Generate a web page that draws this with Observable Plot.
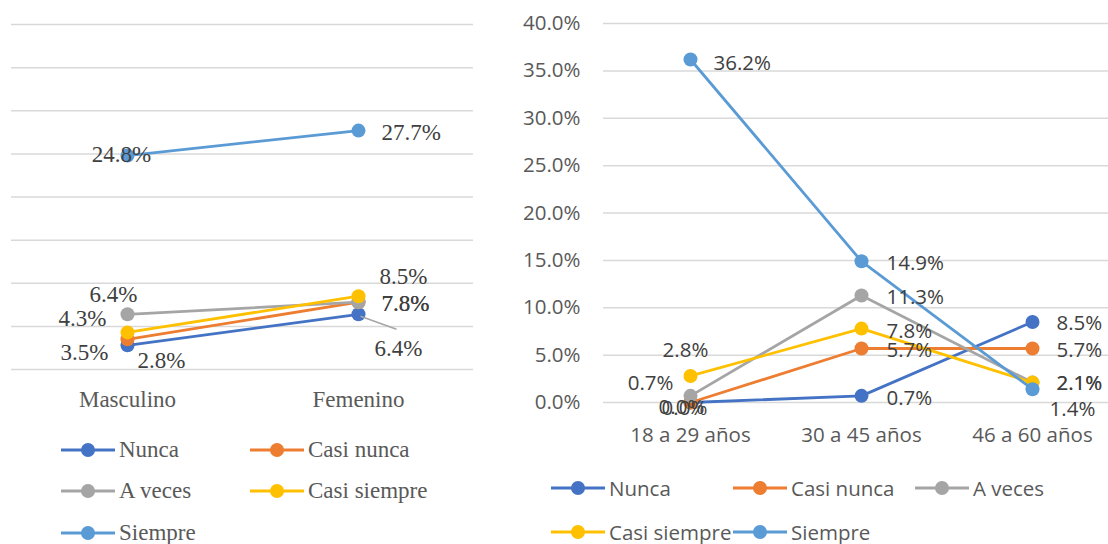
<!DOCTYPE html>
<html>
<head>
<meta charset="utf-8">
<script src="https://cdn.jsdelivr.net/npm/d3@7"></script>
<script src="https://cdn.jsdelivr.net/npm/@observablehq/plot@0.6"></script>
<style>
  html, body { margin: 0; padding: 0; background: #fff; }
  body { width: 1108px; height: 544px; overflow: hidden; position: relative; }
  .pane { position: absolute; top: 0; }
  .pane svg { max-width: none !important; }
  .legend { position: absolute; display: grid; }
  .legend .item { display: flex; align-items: center; white-space: nowrap; }
  .legend svg { display: block; flex: none; }
</style>
</head>
<body>
<div id="left" class="pane" style="left:0;width:480px;"></div>
<div id="leftLegend" class="legend" style="left:61px;top:429px;grid-template-columns:189px 189px;grid-auto-rows:41.5px;font-family:'Liberation Serif','Times New Roman',serif;font-size:23px;color:#595959;"></div>
<div id="right" class="pane" style="left:480px;width:628px;overflow:hidden;"></div>
<div id="rightLegend" class="legend" style="left:551px;top:466px;grid-template-columns:182px 182px 182px;grid-auto-rows:44px;font-family:'Open Sans',sans-serif;font-size:20.5px;color:#595959;"></div>
<script>
// ---------- data ----------
const seriesNames = ["Nunca", "Casi nunca", "A veces", "Casi siempre", "Siempre"];
const seriesColors = ["#4472C4", "#ED7D31", "#A5A5A5", "#FFC000", "#5B9BD5"];

const sexCategories = ["Masculino", "Femenino"];
const sexNunca = [2.8, 6.4];
const sexCasiNunca = [3.5, 7.8];
const sexAVeces = [6.4, 7.8];
const sexCasiSiempre = [4.3, 8.5];
const sexSiempre = [24.8, 27.7];

const ageCategories = ["18 a 29 años", "30 a 45 años", "46 a 60 años"];
const ageNunca = [0.0, 0.7, 8.5];
const ageCasiNunca = [0.0, 5.7, 5.7];
const ageAVeces = [0.7, 11.3, 2.1];
const ageCasiSiempre = [2.8, 7.8, 2.1];
const ageSiempre = [36.2, 14.9, 1.4];

const yTicks = [0, 5, 10, 15, 20, 25, 30, 35, 40];

// label placement (anchor, dx, dy relative to the point; dy to baseline)
const sexLabelSpec = [
  [["start", 10, 23], ["middle", 40, 42, "leader"]],
  [["end", -19, 20.5], ["start", 23, 8.7]],
  [["middle", -14, -12], ["start", 23, 8.7]],
  [["end", -21, -6], ["middle", 45, -12.3]],
  [["middle", -6, 6.4], ["start", 23, 9]]
];
const ageLabelSpec = [
  [["middle", -9, 11], ["start", 25, 9.3], ["start", 24, 8.2]],
  [["middle", -6, 12], ["start", 25, 9], ["start", 24, 9]],
  [["end", -17, -5.7], ["start", 25, 8.8], ["start", 24, 7.6]],
  [["middle", -5, -19], ["start", 25, 9], ["start", 24, 7.6]],
  [["start", 23, 10], ["start", 25, 9], ["middle", 40, 27]]
];

// ---------- helpers ----------
function buildRows(cats, arrays) {
  const rows = [];
  arrays.forEach((arr, si) => arr.forEach((v, ci) => rows.push({series: seriesNames[si], si, ci, cat: cats[ci], value: v})));
  return rows;
}
const fmt = v => v.toFixed(1) + "%";

const leaderSymbol = {
  draw(context) { context.moveTo(2, 2); context.lineTo(38, 15); }
};

function seriesMarks(rows, specs, labelFont) {
  const marks = [];
  seriesNames.forEach((s, si) => {
    const d = rows.filter(r => r.si === si);
    marks.push(Plot.line(d, {x: "cat", y: "value", stroke: seriesColors[si], strokeWidth: 2.8}));
    marks.push(Plot.dot(d, {x: "cat", y: "value", fill: seriesColors[si], r: 7}));
  });
  rows.forEach(r => {
    const [anchor, dx, dy, extra] = specs[r.si][r.ci];
    if (extra === "leader") {
      marks.push(Plot.dot([r], {x: "cat", y: "value", symbol: leaderSymbol, stroke: "#A6A6A6", fill: "none", strokeWidth: 1.5, r: 7}));
    }
    marks.push(Plot.text([r], {
      x: "cat", y: "value", text: d => fmt(d.value),
      textAnchor: anchor, lineAnchor: "bottom", dx, dy,
      fill: "#404040", fontSize: labelFont
    }));
  });
  return marks;
}

// ---------- left chart (sexo) ----------
const sexRows = buildRows(sexCategories, [sexNunca, sexCasiNunca, sexAVeces, sexCasiSiempre, sexSiempre]);
const left = Plot.plot({
  width: 480, height: 415,
  marginLeft: 11, marginRight: 7, marginTop: 24, marginBottom: 46,
  style: {fontFamily: "'Liberation Serif','Times New Roman',serif", fontSize: "23px", color: "#595959", background: "transparent", overflow: "visible", maxWidth: "none"},
  x: {type: "point", domain: sexCategories, padding: 0.5},
  y: {domain: [0, 40], axis: null},
  marks: [
    Plot.gridY(yTicks, {stroke: "#D9D9D9", strokeOpacity: 1, strokeWidth: 1.5}),
    Plot.axisX({tickSize: 0, tickPadding: 21, fontSize: 23, label: null, fill: "#595959"}),
    ...seriesMarks(sexRows, sexLabelSpec, 23)
  ]
});
document.getElementById("left").appendChild(left);

// ---------- right chart (edad) ----------
const ageRows = buildRows(ageCategories, [ageNunca, ageCasiNunca, ageAVeces, ageCasiSiempre, ageSiempre]);
const right = Plot.plot({
  width: 638, height: 460,
  marginLeft: 123, marginRight: 0, marginTop: 23, marginBottom: 58,
  style: {fontFamily: "'Open Sans',sans-serif", fontSize: "20.5px", color: "#595959", background: "transparent", maxWidth: "none"},
  x: {type: "point", domain: ageCategories, padding: 0.5},
  y: {domain: [0, 40]},
  marks: [
    Plot.gridY(yTicks, {stroke: "#D9D9D9", strokeOpacity: 1, strokeWidth: 1.5}),
    Plot.axisY({ticks: yTicks, tickFormat: d => d.toFixed(1) + "%", tickSize: 0, tickPadding: 23, fontSize: 20.5, label: null, fill: "#595959"}),
    Plot.axisX({tickSize: 0, tickPadding: 25, fontSize: 20.5, label: null, fill: "#595959"}),
    ...seriesMarks(ageRows, ageLabelSpec, 20.5)
  ]
});
document.getElementById("right").appendChild(right);

// ---------- legends ----------
function buildLegend(el) {
  seriesNames.forEach((s, i) => {
    const item = document.createElement("div");
    item.className = "item";
    item.innerHTML = `<svg width="54" height="16"><line x1="0" x2="54" y1="8" y2="8" stroke="${seriesColors[i]}" stroke-width="2.8"/><circle cx="27" cy="8" r="7" fill="${seriesColors[i]}"/></svg><span style="margin-left:4px">${s}</span>`;
    el.appendChild(item);
  });
}
buildLegend(document.getElementById("leftLegend"));
buildLegend(document.getElementById("rightLegend"));
</script>
</body>
</html>
